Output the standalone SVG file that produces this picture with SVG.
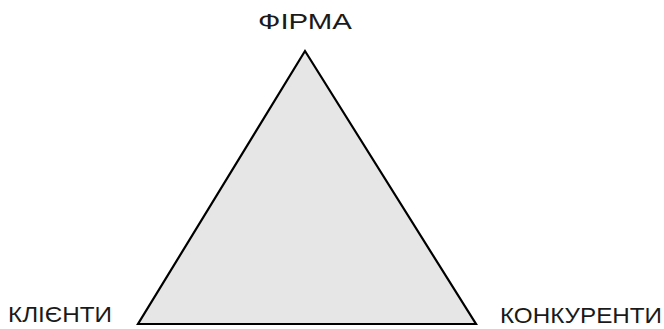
<svg xmlns="http://www.w3.org/2000/svg" width="664" height="329" viewBox="0 0 664 329">
<style>
.lbl{font-family:"Liberation Sans","Noto Sans",sans-serif;font-size:22px;fill:#1a1a1a}
.tri{fill:#e6e6e6;stroke:#000;stroke-width:2.2;stroke-linejoin:miter}
</style>
<rect width="664" height="329" fill="#fff"/>
<g id="triangle"><polygon class="tri" points="305,51 138,324 476,324"/></g>
<g id="firma"><text class="lbl" x="305" y="29" text-anchor="middle" textLength="94" lengthAdjust="spacingAndGlyphs">ФІРМА</text></g>
<g id="klienty"><text class="lbl" x="8" y="322" textLength="104" lengthAdjust="spacingAndGlyphs">КЛІЄНТИ</text></g>
<g id="konkurenty"><text class="lbl" x="500" y="323" textLength="162" lengthAdjust="spacingAndGlyphs">КОНКУРЕНТИ</text></g>
</svg>
